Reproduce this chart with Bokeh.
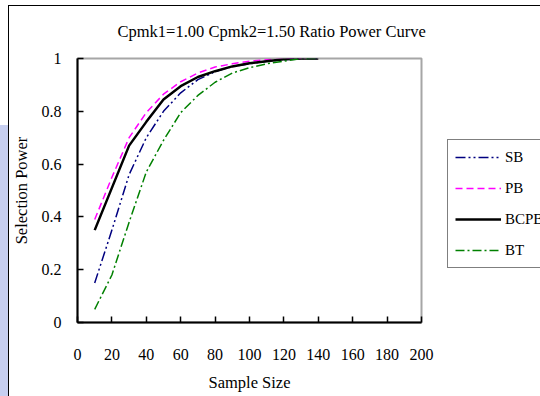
from bokeh.plotting import figure
from bokeh.models import (Legend, LegendItem, FixedTicker, NumeralTickFormatter, Range1d)
from bokeh.embed import file_html
from bokeh.resources import INLINE

# ---- data ----
sample_size = [10, 20, 30, 40, 50, 60, 70, 80, 90, 100, 110, 120, 130, 140]
sb = [0.15, 0.35, 0.56, 0.70, 0.80, 0.87, 0.92, 0.95, 0.97, 0.98, 0.99, 0.995, 1.0, 1.0]
pb = [0.39, 0.55, 0.70, 0.795, 0.865, 0.912, 0.945, 0.968, 0.98, 0.99, 0.995, 0.998, 1.0, 1.0]
bcpb = [0.35, 0.51, 0.67, 0.76, 0.845, 0.895, 0.93, 0.952, 0.97, 0.982, 0.99, 0.997, 1.0, 1.0]
bt = [0.05, 0.18, 0.38, 0.57, 0.69, 0.795, 0.86, 0.91, 0.945, 0.965, 0.98, 0.99, 1.0, 1.0]
x_ticks = [0, 20, 40, 60, 80, 100, 120, 140, 160, 180, 200]
y_ticks = [0, 0.2, 0.4, 0.6, 0.8, 1.0]
title_text = "Cpmk1=1.00 Cpmk2=1.50 Ratio Power Curve"

FONT = "Liberation Serif"

page_bg = ("linear-gradient(#000,#000) 8px 5px / 1px 100% no-repeat, "
           "linear-gradient(#000,#000) 8px 5px / 100% 1px no-repeat, "
           "linear-gradient(#c7cff0,#c7cff0) 0px 125px / 8px 100% no-repeat, white")

p = figure(width=540, height=396, output_backend="svg", toolbar_location=None,
           x_range=Range1d(0, 200), y_range=Range1d(0, 1),
           min_border_left=77, min_border_right=119, min_border_top=58, min_border_bottom=74,
           title=title_text, styles={"background": page_bg})
p.frame_width = 344
p.frame_height = 264
p.xgrid.visible = False
p.ygrid.visible = False
p.background_fill_color = "white"
p.border_fill_color = None
p.outline_line_color = "#a6a6a6"
p.outline_line_width = 2

p.title.align = "left"
p.title.offset = 40
p.title.standoff = 36
p.title.text_font = FONT
p.title.text_font_size = "16.5px"
p.title.text_font_style = "normal"
p.title.text_color = "black"

for ax in (p.xaxis[0], p.yaxis[0]):
    ax.axis_line_color = "black"
    ax.axis_line_width = 2
    ax.major_tick_line_color = "black"
    ax.major_tick_line_width = 1.5
    ax.major_tick_in = 6
    ax.major_tick_out = 0
    ax.minor_tick_line_color = None
    ax.major_label_text_font = FONT
    ax.major_label_text_font_size = "16px"
    ax.major_label_text_color = "black"
    ax.axis_label_text_font = FONT
    ax.axis_label_text_font_size = "16.5px"
    ax.axis_label_text_font_style = "normal"
    ax.axis_label_text_color = "black"

p.xaxis.ticker = FixedTicker(ticks=x_ticks)
p.yaxis.ticker = FixedTicker(ticks=y_ticks)
p.yaxis.formatter = NumeralTickFormatter(format="0.[0]")
p.xaxis.major_label_standoff = 26
p.yaxis.major_label_standoff = 16
p.xaxis.axis_label = "Sample Size"
p.yaxis.axis_label = "Selection Power"
p.xaxis.axis_label_standoff = 10
p.yaxis.axis_label_standoff = 8

r_sb = p.line(sample_size, sb, line_color="#000080", line_width=1.5, line_dash="10 3 2 3 2 3")
r_pb = p.line(sample_size, pb, line_color="#ff00ff", line_width=1.5, line_dash="7 4")
r_bcpb = p.line(sample_size, bcpb, line_color="black", line_width=2.5)
r_bt = p.line(sample_size, bt, line_color="#008000", line_width=1.5, line_dash="9 3 2 3")

legend = Legend(items=[LegendItem(label="SB", renderers=[r_sb]),
                       LegendItem(label="PB", renderers=[r_pb]),
                       LegendItem(label="BCPB", renderers=[r_bcpb]),
                       LegendItem(label="BT", renderers=[r_bt])],
                location=(26, 54), orientation="vertical")
legend.border_line_color = "black"
legend.border_line_width = 1
legend.background_fill_color = "white"
legend.background_fill_alpha = 1
legend.label_text_font = FONT
legend.label_text_font_size = "15px"
legend.label_text_color = "black"
legend.glyph_width = 46
legend.glyph_height = 20
legend.label_height = 20
legend.spacing = 11
legend.padding = 7
legend.margin = 0
legend.label_standoff = 4
p.add_layout(legend, "right")

open("out.html", "w").write(file_html(p, INLINE))
